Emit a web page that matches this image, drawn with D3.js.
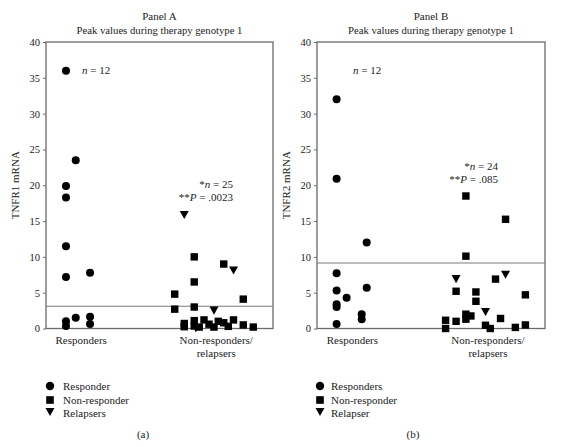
<!DOCTYPE html>
<html><head><meta charset="utf-8">
<script src="https://cdn.jsdelivr.net/npm/d3@7"></script>
<style>
html,body{margin:0;padding:0;background:#fff;}
svg text{font-family:"Liberation Serif","DejaVu Serif",serif;fill:#222;}
</style></head>
<body><svg id="chart" width="563" height="447"></svg>
<script>
// ---- data ----
const categories = ["Responders", ["Non-responders/", "relapsers"]];
const categoryPos = [15.5, 75];            // position along the strip axis (0-100)
const yTicks = [0, 5, 10, 15, 20, 25, 30, 35, 40];

// Panel A: TNFR1 — [stripPosition, value]
const aResponders = [[8.8,36.0],[13.1,23.5],[8.8,19.9],[8.8,18.3],[8.8,11.5],[8.8,7.2],[19.4,7.8],[8.8,1.0],[8.8,0.35],[13.1,1.5],[19.4,1.65],[19.4,0.63]];
const aNonResponders = [[65.3,10.0],[78.3,9.0],[65.3,6.5],[56.7,4.8],[86.9,4.1],[56.7,2.7],[65.3,3.0],[60.9,0.7],[60.9,0.25],[65.3,1.1],[65.3,0.35],[67.5,0.2],[69.6,1.2],[74,0.2],[75.9,1.0],[78.3,0.8],[80.3,0.3],[82.6,1.2],[86.9,0.5],[91.3,0.2],[71.8,0.6]];
const aRelapsers = [[60.9,15.85],[82.6,8.1],[74,2.5],[66,0.05]];
const aThreshold = 3.1;

// Panel B: TNFR2
const bResponders = [[8.6,32.0],[8.6,20.9],[21.8,12.0],[8.6,7.7],[8.6,5.3],[13,4.3],[8.6,3.4],[8.6,3.0],[21.8,5.7],[19.6,2.0],[19.6,1.3],[8.6,0.63]];
const bNonResponders = [[65.3,18.5],[82.7,15.25],[65.3,10.1],[78.3,6.9],[61,5.2],[69.7,5.1],[69.7,3.8],[91.4,4.7],[65.3,2.0],[67.5,1.75],[65.3,1.3],[80.5,1.4],[56.4,1.15],[56.4,0.0],[61,1.0],[73.9,0.45],[76,0.0],[87,0.15],[91.4,0.5]];
const bRelapsers = [[61,6.9],[82.7,7.5],[73.9,2.3]];
const bThreshold = 9.15;

const panels = [
  {left:46, right:273, title:"Panel A", ylabel:"TNFR1 mRNA", resp:aResponders, non:aNonResponders, rel:aRelapsers, thr:aThreshold,
   nResp:{x:82, y:74, t:"12"}, nNon:{x:233, t:"25", p:".0023"}, legend:["Responder","Non-responder","Relapsers"], sub:"(a)", legX:50, legTX:63, subX:143},
  {left:317, right:545, title:"Panel B", ylabel:"TNFR2 mRNA", resp:bResponders, non:bNonResponders, rel:bRelapsers, thr:bThreshold,
   nResp:{x:353, y:74, t:"12"}, nNon:{x:498, t:"24", p:".085"}, legend:["Responders","Non-responder","Relapser"], sub:"(b)", legX:320, legTX:331, subX:413}
];
const nNonY = [188, 170];

const svg = d3.select("#chart");
const plotTop = 42, plotBottom = 328.5;
const axisColor = "#6b6b6b";
const fs = 11;

function tri(cx, cy, s){ // downward triangle
  const h = s*0.9;
  return `M${cx-s/2},${cy-h/2}L${cx+s/2},${cy-h/2}L${cx},${cy+h/2}Z`;
}

panels.forEach((p, i) => {
  const g = svg.append("g");
  const x = d3.scaleLinear().domain([0,100]).range([p.left, p.right]);
  const y = d3.scaleLinear().domain([0,40]).range([plotBottom, plotTop]);
  const cx = (p.left + p.right)/2;

  // titles
  g.append("text").attr("x", cx).attr("y", 20).attr("text-anchor","middle").attr("font-size",fs).text(p.title);
  g.append("text").attr("x", cx).attr("y", 34).attr("text-anchor","middle").attr("font-size",10.7).text("Peak values during therapy genotype 1");

  // y axis
  const ya = g.append("g").attr("transform",`translate(${p.left},0)`)
    .call(d3.axisLeft(y).tickValues(yTicks).tickSize(3).tickPadding(3));
  ya.select(".domain").remove();
  ya.selectAll("line").attr("stroke", axisColor);
  ya.selectAll("text").attr("font-size",10.5).attr("font-family","Liberation Serif, serif").attr("fill","#222");

  // frame
  g.append("rect").attr("x", p.left).attr("y", y(40)).attr("width", p.right-p.left).attr("height", y(0)-y(40))
    .attr("fill","none").attr("stroke", axisColor).attr("stroke-width",1.3);
  // threshold
  g.append("line").attr("x1", p.left).attr("x2", p.right).attr("y1", y(p.thr)).attr("y2", y(p.thr))
    .attr("stroke", "#7a7a7a").attr("stroke-width",1.1);

  // y label
  g.append("text").attr("transform",`translate(${p.left-27},${(plotTop+plotBottom)/2}) rotate(-90)`)
    .attr("text-anchor","middle").attr("font-size",fs).text(p.ylabel);

  // category labels
  categories.forEach((c, k) => {
    const lines = Array.isArray(c) ? c : [c];
    lines.forEach((ln, j) => {
      g.append("text").attr("x", x(categoryPos[k])).attr("y", 343.5 + j*13.5).attr("text-anchor","middle")
        .attr("font-size",fs).text(ln);
    });
  });

  // marks
  g.selectAll(".resp").data(p.resp).join("circle").attr("cx", d=>x(d[0])).attr("cy", d=>y(d[1])).attr("r",4).attr("fill","#000");
  g.selectAll(".non").data(p.non).join("rect").attr("x", d=>x(d[0])-3.7).attr("y", d=>y(d[1])-3.7).attr("width",7.4).attr("height",7.4).attr("fill","#000");
  g.selectAll(".rel").data(p.rel).join("path").attr("d", d=>tri(x(d[0]), y(d[1]), 9)).attr("fill","#000");

  // annotations
  const t1 = g.append("text").attr("x", p.nResp.x).attr("y", p.nResp.y).attr("font-size",fs);
  t1.append("tspan").attr("font-style","italic").text("n");
  t1.append("tspan").text(" = " + p.nResp.t);
  const t2 = g.append("text").attr("x", p.nNon.x).attr("y", nNonY[i]).attr("font-size",fs).attr("text-anchor","end");
  t2.append("tspan").text("*");
  t2.append("tspan").attr("font-style","italic").text("n");
  t2.append("tspan").text(" = " + p.nNon.t);
  const t3 = g.append("text").attr("x", p.nNon.x).attr("y", nNonY[i]+13).attr("font-size",fs).attr("text-anchor","end");
  t3.append("tspan").text("**");
  t3.append("tspan").attr("font-style","italic").text("P");
  t3.append("tspan").text(" = " + p.nNon.p);

  // legend
  const ly = [386, 400, 413];
  g.append("circle").attr("cx", p.legX).attr("cy", ly[0]).attr("r",4.2).attr("fill","#000");
  g.append("rect").attr("x", p.legX-3.8).attr("y", ly[1]-3.8).attr("width",7.6).attr("height",7.6).attr("fill","#000");
  g.append("path").attr("d", tri(p.legX, ly[2]-1, 9)).attr("fill","#000");
  p.legend.forEach((l, k) => {
    g.append("text").attr("x", p.legTX).attr("y", ly[k]+4).attr("font-size",fs).text(l);
  });
  g.append("text").attr("x", p.subX).attr("y", 438).attr("text-anchor","middle").attr("font-size",fs).text(p.sub);
});
</script></body></html>
